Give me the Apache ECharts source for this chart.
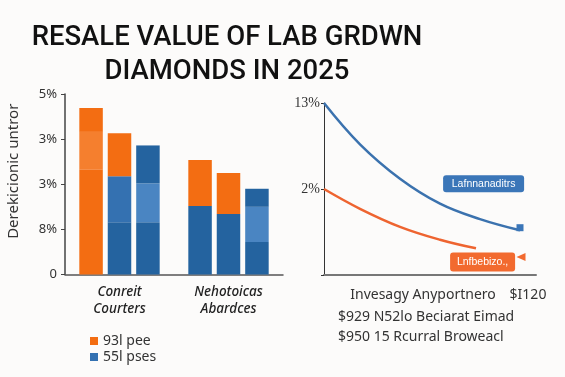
<!DOCTYPE html>
<html>
<head>
<meta charset="utf-8">
<script src="https://cdn.jsdelivr.net/npm/echarts@6/dist/echarts.min.js"></script>
<style>
html,body{margin:0;padding:0;background:#fcfbfa;}
#chart{width:565px;height:377px;}
</style>
</head>
<body>
<div id="chart"></div>
<script>
// ---------- data ----------
const titleText = 'RESALE VALUE OF LAB GRDWN\nDIAMONDS IN 2025';
const groups = ['Conreit\nCourters', 'Nehotoicas\nAbardces'];
const leftYLabels = ['0', '8%', '3%', '3%', '5%'];
const leftYName = 'Derekicionic untror';
// stacked bar segments: [group1, group2] for each bar position
const pos1Bottom = [2.32, 1.52];
const pos1Mid    = [0.84, 0];
const pos1Top    = [0.53, 1.02];
const pos2Bottom = [1.16, 1.34];
const pos2Mid    = [1.02, 0];
const pos2Top    = [0.95, 0.91];
const pos3Bottom = [1.16, 0.72];
const pos3Mid    = [0.86, 0.78];
const pos3Top    = [0.84, 0.40];
const legendNames = ['93l pee', '55l pses'];

const rightYLabels = ['', '2%', '13%'];
const blueLine = [[0, 2.0], [1.8, 1.52], [3.8, 1.12], [5.8, 0.83], [7.8, 0.65], [9.8, 0.52]];
const orangeLine = [[0, 1.0], [1.8, 0.77], [3.8, 0.56], [5.8, 0.41], [7.6, 0.31]];
const blueTag = 'Lafnnanaditrs';
const orangeTag = 'Lnfbebizo.,';
const rightXName = 'Invesagy Anyportnero';
const rightXEnd = '$I120';
const noteLines = ['$929 N52lo Beciarat Eimad', '$950 15 Rcurral Broweacl'];

// ---------- styles ----------
const C = {
  orange: '#f36d12', orangeLight: '#f57f2e',
  blue: '#24639f', blueMid: '#3471b1', blueLight: '#4a85c2',
  lineBlue: '#3b72ae', lineOrange: '#ee6430',
  tagBlue: '#3b76b8', tagOrange: '#f26a2f'
};
const segColors = {
  pos1Bottom: ['orange', 'blue'], pos1Mid: ['orangeLight', 'orangeLight'], pos1Top: ['orange', 'orange'],
  pos2Bottom: ['blue', 'blue'], pos2Mid: ['blueMid', 'blueMid'], pos2Top: ['orange', 'orange'],
  pos3Bottom: ['blue', 'blue'], pos3Mid: ['blueLight', 'blueLight'], pos3Top: ['blue', 'blue']
};
const segData = {pos1Bottom, pos1Mid, pos1Top, pos2Bottom, pos2Mid, pos2Top, pos3Bottom, pos3Mid, pos3Top};
const FONT = 'Noto Sans';

const barSeries = [];
['pos1', 'pos2', 'pos3'].forEach(p => {
  ['Bottom', 'Mid', 'Top'].forEach(l => {
    const key = p + l;
    barSeries.push({
      type: 'bar', stack: p, xAxisIndex: 0, yAxisIndex: 0,
      barWidth: 23.5, barGap: '21%',
      data: segData[key].map((v, i) => ({value: v, itemStyle: {color: C[segColors[key][i]]}})),
      emphasis: {disabled: true}
    });
  });
});

const chart = echarts.init(document.getElementById('chart'), null, {renderer: 'canvas'});
chart.setOption({
  backgroundColor: '#fcfbfa',
  animation: false,
  title: [
    {text: titleText, left: 222, top: 16, textAlign: 'center',
     textStyle: {fontFamily: 'Roboto', fontSize: 27.5, fontWeight: 500, color: '#111', lineHeight: 34}},
    {text: rightXName, left: 418, top: 283, textAlign: 'center',
     textStyle: {fontFamily: FONT, fontSize: 14, fontWeight: 'normal', color: '#333'}},
    {text: rightXEnd, left: 523, top: 283, textAlign: 'center',
     textStyle: {fontFamily: FONT, fontSize: 14, fontWeight: 'normal', color: '#333'}},
    {text: noteLines[0], left: 333, top: 305,
     textStyle: {fontFamily: FONT, fontSize: 14, fontWeight: 'normal', color: '#333'}},
    {text: noteLines[1], left: 333, top: 325,
     textStyle: {fontFamily: FONT, fontSize: 14, fontWeight: 'normal', color: '#333'}}
  ],
  legend: {
    data: legendNames, orient: 'vertical', left: 85, top: 329,
    icon: 'rect', itemWidth: 8, itemHeight: 8, itemGap: 2,
    textStyle: {fontFamily: FONT, fontSize: 14, color: '#333'},
    selectedMode: false
  },
  grid: [
    {left: 65, top: 94, width: 218, height: 180.5},
    {left: 324, top: 103, width: 212, height: 172}
  ],
  xAxis: [
    {type: 'category', gridIndex: 0, data: groups,
     axisLine: {lineStyle: {color: '#555', width: 1.5}}, axisTick: {show: false},
     axisLabel: {interval: 0, margin: 9, fontFamily: FONT, fontSize: 13.5, fontStyle: 'italic', fontWeight: 500, color: '#222', lineHeight: 17}},
    {type: 'value', gridIndex: 1, min: 0, max: 10.6,
     axisLine: {show: true, lineStyle: {color: '#777', width: 2}}, axisTick: {show: false},
     axisLabel: {show: false}, splitLine: {show: false}}
  ],
  yAxis: [
    {type: 'value', gridIndex: 0, min: 0, max: 4, interval: 1,
     name: leftYName, nameLocation: 'middle', nameGap: 44, nameRotate: 90,
     nameTextStyle: {fontFamily: FONT, fontSize: 15, color: '#333', padding: [0, 0, 0, 26]},
     axisLine: {show: true, lineStyle: {color: '#444', width: 1.5}},
     axisTick: {show: true, length: 4, lineStyle: {color: '#444'}},
     axisLabel: {formatter: v => leftYLabels[Math.round(v)], fontFamily: FONT, fontSize: 13, color: '#333', margin: 8},
     splitLine: {show: false}},
    {type: 'value', gridIndex: 1, min: 0, max: 2, interval: 1,
     axisLine: {show: true, lineStyle: {color: '#333', width: 1}},
     axisTick: {show: true, length: 3, lineStyle: {color: '#333'}},
     axisLabel: {formatter: v => rightYLabels[Math.round(v)], fontFamily: 'Liberation Serif', fontSize: 14, color: '#333', margin: 4},
     splitLine: {show: false}}
  ],
  series: barSeries.concat([
    {type: 'line', name: legendNames[0], data: [], color: C.orange, xAxisIndex: 0, yAxisIndex: 0},
    {type: 'line', name: legendNames[1], data: [], color: C.blueMid, xAxisIndex: 0, yAxisIndex: 0},
    {type: 'line', xAxisIndex: 1, yAxisIndex: 1, data: blueLine, smooth: 0.4, showSymbol: false,
     lineStyle: {color: C.lineBlue, width: 2.5}, itemStyle: {color: C.lineBlue},
     markPoint: {silent: true, data: [
       {coord: [7.98, 1.06], symbol: 'rect', symbolSize: 0,
        label: {show: true, position: 'inside', formatter: blueTag, color: '#fff', fontFamily: 'Liberation Sans', fontSize: 10.5,
                backgroundColor: C.tagBlue, borderRadius: 3, width: 69, align: 'center', padding: [3, 6]}},
       {coord: [9.8, 0.55], symbol: 'rect', symbolSize: [7, 7], itemStyle: {color: C.tagBlue}, label: {show: false}}
     ]}},
    {type: 'line', xAxisIndex: 1, yAxisIndex: 1, data: orangeLine, smooth: 0.4, showSymbol: false,
     lineStyle: {color: C.lineOrange, width: 2.5}, itemStyle: {color: C.lineOrange},
     markPoint: {silent: true, data: [
       {coord: [7.93, 0.15], symbol: 'rect', symbolSize: 0,
        label: {show: true, position: 'inside', formatter: orangeTag, color: '#fff', fontFamily: 'Liberation Sans', fontSize: 10.5,
                backgroundColor: C.tagOrange, borderRadius: 3, width: 53, align: 'center', padding: [4, 6]}},
       {coord: [9.85, 0.21], symbol: 'triangle', symbolRotate: 90, symbolSize: [8, 9], itemStyle: {color: C.tagOrange}, label: {show: false}}
     ]}}
  ])
});
</script>
</body>
</html>
